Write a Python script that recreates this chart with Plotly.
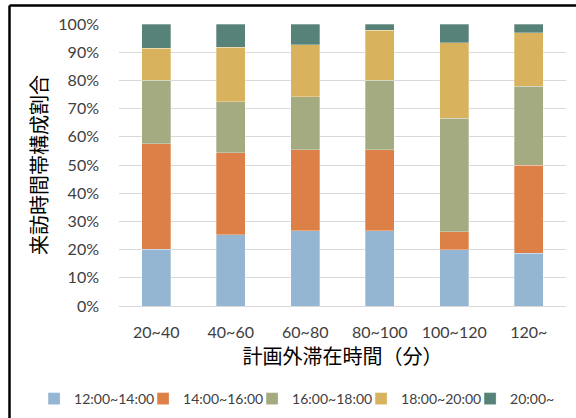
import plotly.graph_objects as go

categories = ["20~40", "40~60", "60~80", "80~100", "100~120", "120~"]
series_names = ["12:00~14:00", "14:00~16:00", "16:00~18:00", "18:00~20:00", "20:00~"]
s1 = [20.1, 25.2, 26.6, 26.6, 20.0, 18.7]
s2 = [37.5, 29.1, 28.8, 28.8, 6.4, 31.2]
s3 = [22.5, 18.1, 18.8, 24.6, 40.2, 28.1]
s4 = [11.3, 19.4, 18.5, 17.8, 26.7, 18.9]
s5 = [8.6, 8.2, 7.3, 2.2, 6.7, 3.1]
colors = ["#94B6D2", "#DD8047", "#A5AB81", "#D8B25C", "#568278"]
tick_vals = [0, 10, 20, 30, 40, 50, 60, 70, 80, 90, 100]
tick_text = [f"{v}%" for v in tick_vals]

font_main = "Lato, 'Noto Sans CJK JP', sans-serif"
font_cjk = "'Noto Sans CJK JP', sans-serif"

fig = go.Figure()
for name, vals, c in zip(series_names, [s1, s2, s3, s4, s5], colors):
    fig.add_trace(go.Bar(x=categories, y=vals, name=name,
                         marker=dict(color=c, line=dict(width=0.5, color="rgba(255,255,255,0.6)"))))

W, H = 576, 418
L, R, T, B = 119, 10, 24, 112
pw, ph = W - L - R, H - T - B

fig.update_layout(
    width=W, height=H,
    barmode="stack",
    bargap=0.61,
    margin=dict(l=L, r=R, t=T, b=B, pad=0, autoexpand=False),
    plot_bgcolor="white", paper_bgcolor="white",
    font=dict(family=font_main, color="#404040", size=15),
    xaxis=dict(
        showgrid=False, showline=True, linecolor="#D9D9D9", linewidth=1,
        ticks="", tickfont=dict(size=16, color="#404040", family=font_main),
        ticklabelstandoff=12,
        title=dict(text="計画外滞在時間（分）", font=dict(size=20, color="#000000", family=font_cjk), standoff=8),
    ),
    yaxis=dict(
        range=[0, 100], tickvals=tick_vals, ticktext=tick_text,
        showgrid=True, gridcolor="#D9D9D9", gridwidth=1,
        zeroline=False, showline=False, ticks="",
        tickfont=dict(size=16, color="#404040", family=font_main),
        ticklabelstandoff=19,
        title=dict(text="来訪時間帯構成割合", font=dict(size=20, color="#000000", family=font_cjk), standoff=5),
    ),
    legend=dict(
        orientation="h", x=-0.19, xanchor="left", y=(306 - 399) / ph, yanchor="middle",
        font=dict(size=14, color="#404040", family=font_main),
        itemwidth=30, traceorder="normal",
        entrywidth=64, entrywidthmode="pixels",
    ),
    shapes=[
        dict(type="line", xref="paper", yref="paper",
             x0=(9.5 - L) / pw, x1=(W + 20 - L) / pw, y0=1 + (T - 5.5) / ph, y1=1 + (T - 5.5) / ph,
             line=dict(color="black", width=2.5)),
        dict(type="line", xref="paper", yref="paper",
             x0=(9.5 - L) / pw, x1=(9.5 - L) / pw, y0=1 + (T - 5.5) / ph, y1=-(B + 20) / ph,
             line=dict(color="black", width=2.5)),
    ],
)

fig.write_html("out.html", config={"displayModeBar": False},
               post_script="document.body.style.margin='0';document.body.style.padding='0';")
